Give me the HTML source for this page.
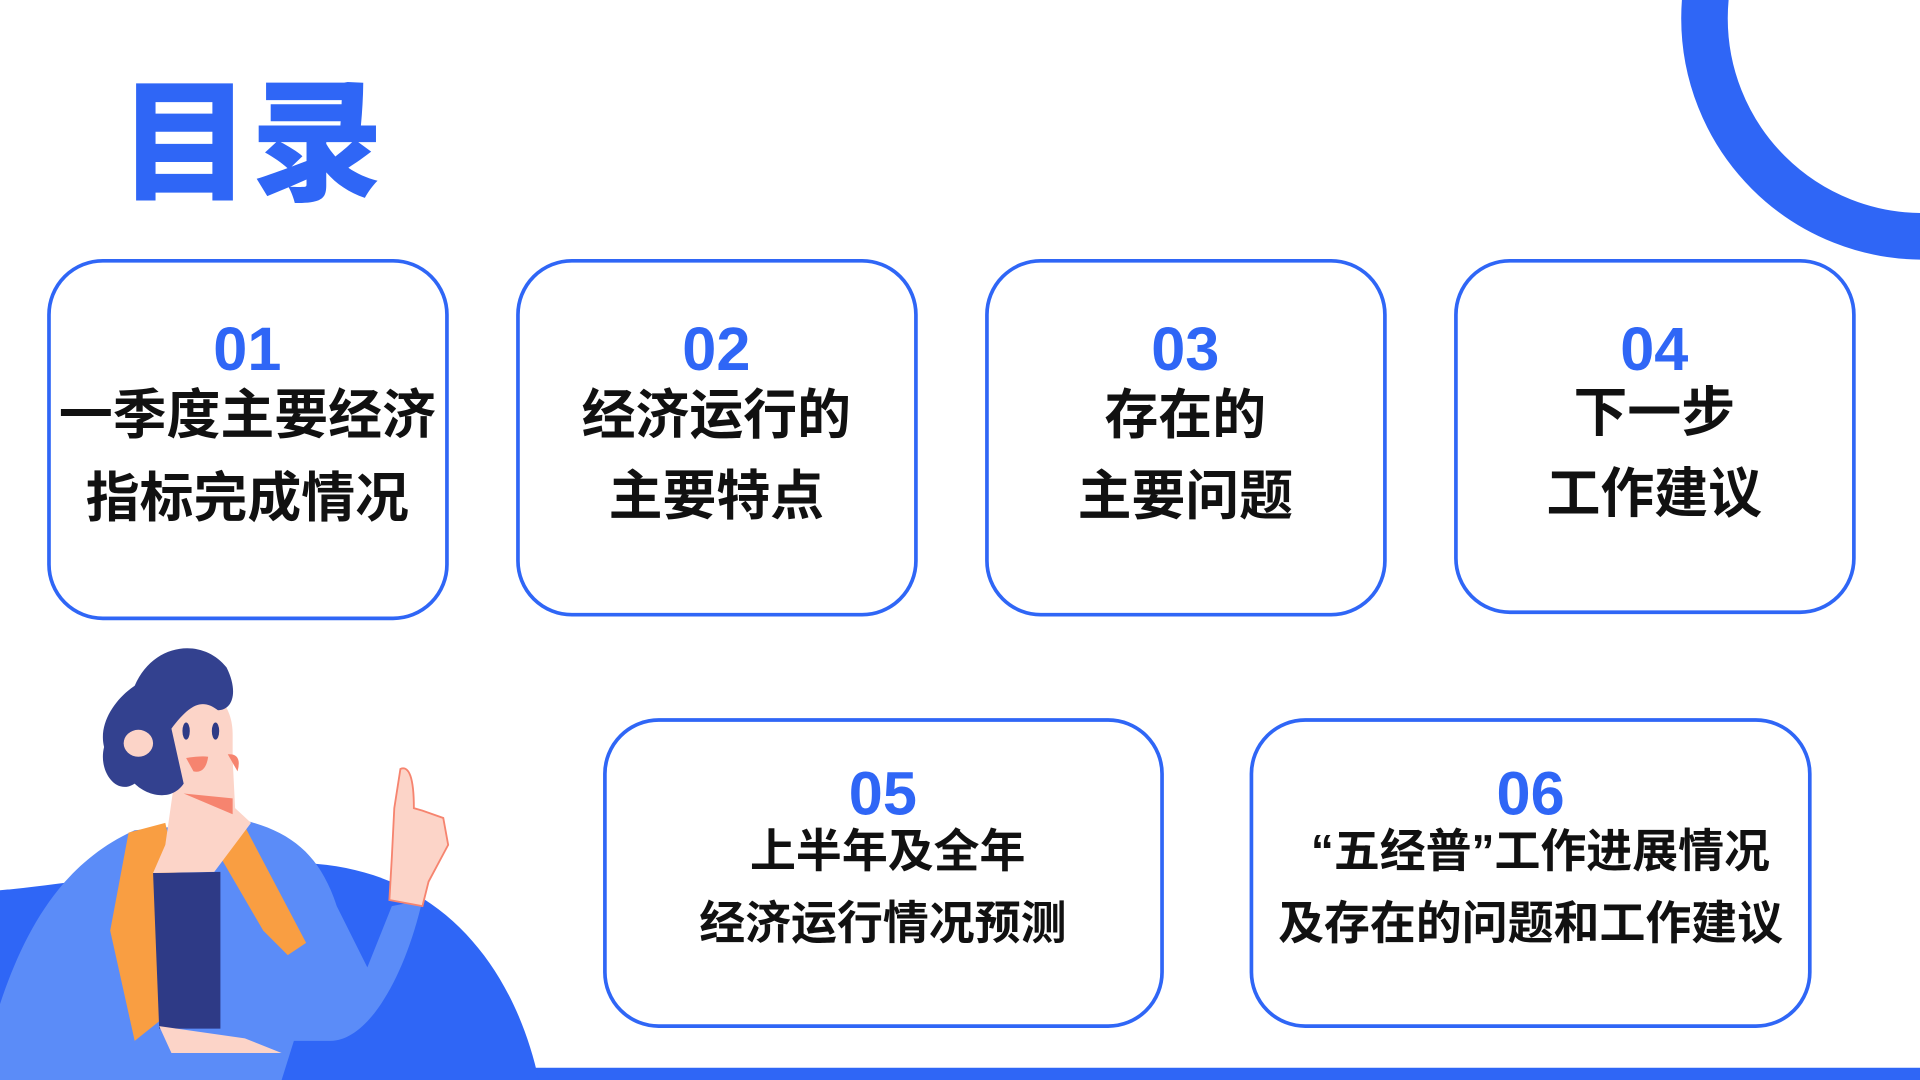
<!DOCTYPE html>
<html><head><meta charset="utf-8"><style>
html,body{margin:0;padding:0;background:#fff;}
svg{display:block;}
text{font-family:"Liberation Sans","Noto Sans CJK SC",sans-serif;font-weight:bold;}
</style></head><body>
<svg width="1920" height="1080" viewBox="0 0 1568 882" xmlns="http://www.w3.org/2000/svg">
<rect width="1568" height="882" fill="#fff"/>
<circle cx="1570" cy="15" r="178" fill="none" stroke="#2f66f6" stroke-width="38"/>
<text x="97" y="155" font-size="108" fill="#2f66f6" style="font-family:'Noto Sans CJK SC',sans-serif;font-weight:900">目录</text>
<g fill="#fff" stroke="#2f66f6" stroke-width="3">
<rect x="40" y="213" width="325" height="292" rx="44"/>
<rect x="423" y="213" width="325" height="289" rx="44"/>
<rect x="806" y="213" width="325" height="289" rx="44"/>
<rect x="1189" y="213" width="325" height="287" rx="44"/>
<rect x="494" y="588" width="455" height="250" rx="44"/>
<rect x="1022" y="588" width="456" height="250" rx="44"/>
</g>
<g text-anchor="middle" fill="#2f66f6" font-size="50">
<text x="202" y="302">01</text><text x="585" y="302">02</text><text x="968" y="302">03</text><text x="1351" y="302">04</text>
<text x="721" y="665">05</text><text x="1250" y="665">06</text>
</g>
<g text-anchor="middle" fill="#111" font-size="44">
<text x="202" y="354">一季度主要经济</text><text x="202" y="422">指标完成情况</text>
<text x="585" y="354">经济运行的</text><text x="585" y="420">主要特点</text>
<text x="968" y="354">存在的</text><text x="968" y="420">主要问题</text>
<text x="1351" y="352">下一步</text><text x="1351" y="418">工作建议</text>
</g>
<g text-anchor="middle" fill="#111" font-size="37.5">
<text x="725" y="708">上半年及全年</text><text x="721" y="767">经济运行情况预测</text>
<text x="1258" y="708">“五经普”工作进展情况</text><text x="1250" y="767">及存在的问题和工作建议</text>
</g>
<rect x="430" y="872" width="1138" height="10" fill="#2f66f6"/>
<path d="M0 727 C60 722 140 705 250 705 C360 710 420 790 440 882 L0 882 Z" fill="#2f66f6"/>
<g>
<path d="M0 882 L0 820 C20 760 50 705 110 678 L200 670 C240 680 262 700 275 740 L300 790 L320 740 L345 735 C330 800 300 850 270 850 L240 850 L230 882 Z" fill="#5b8cf8"/>
<path d="M105 680 L135 672 L150 740 L135 830 L110 850 L90 760 Z" fill="#f99e42"/>
<path d="M175 672 L200 675 L250 770 L235 780 L215 760 L180 700 Z" fill="#f99e42"/>
<path d="M125 713 L180 712 L180 840 L130 840 Z" fill="#2e3a86"/>
<path d="M145 620 L190 620 L192 660 L205 672 L175 712 L125 713 L135 690 Z" fill="#fcd4c8"/>
<path d="M150 560 C175 560 190 575 190 600 L190 630 C190 650 180 652 165 652 L150 652 L130 640 L125 595 Z" fill="#fcd4c8"/>
<path d="M150 648 L190 652 L190 665 Z" fill="#f6846f"/>
<path d="M110 560 C125 525 165 520 185 545 C195 565 190 580 178 580 C165 570 155 575 140 595 L150 640 C140 655 120 650 110 640 C95 650 80 630 85 610 C80 590 95 570 110 560 Z" fill="#33418f"/>
<ellipse cx="113" cy="607" rx="12" ry="11" fill="#fcd4c8"/>
<ellipse cx="152" cy="597" rx="3" ry="7" fill="#2e3a86"/>
<ellipse cx="176" cy="597" rx="3" ry="7" fill="#2e3a86"/>
<path d="M186 616 Q198 615 194 630" fill="#f6846f"/>
<path d="M152 619 Q165 617 170 618 Q168 632 158 630 Z" fill="#f6846f"/>
<path d="M327 628 C334 625 338 635 338 660 L345 662 L362 668 L366 690 L350 720 L345 740 L318 735 L320 700 L322 660 Z" fill="#fcd4c8" stroke="#f6846f" stroke-width="1.5"/>
<path d="M130 838 L200 848 L230 860 L140 860 Z" fill="#fcd4c8"/>
</g>
</svg>
</body></html>
